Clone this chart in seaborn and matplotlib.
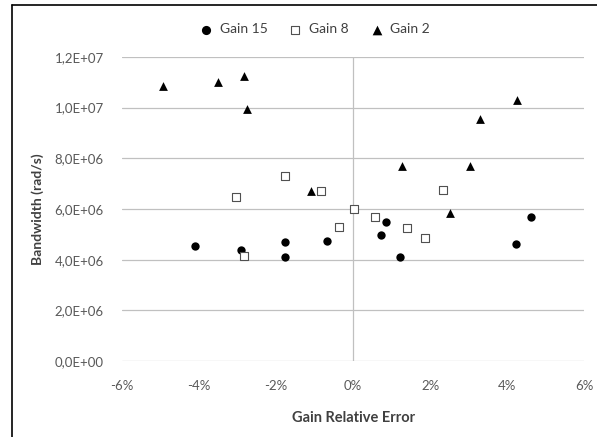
import numpy as np
import pandas as pd
import seaborn as sns
import matplotlib.pyplot as plt
from matplotlib.lines import Line2D
from matplotlib.ticker import FuncFormatter

# values (x in %, y in rad/s)
gain15_err = [-4.10, -2.91, -1.76, -1.76, -0.68, 0.72, 0.86, 1.21, 4.22, 4.61]
gain15_bw = [4.55e6, 4.39e6, 4.69e6, 4.12e6, 4.74e6, 4.99e6, 5.50e6, 4.12e6, 4.62e6, 5.70e6]

gain8_err = [-3.03, -2.82, -1.76, -0.82, -0.37, 0.02, 0.56, 1.40, 1.86, 2.34]
gain8_bw = [6.46e6, 4.16e6, 7.29e6, 6.72e6, 5.28e6, 6.00e6, 5.70e6, 5.26e6, 4.84e6, 6.75e6]

gain2_err = [-4.93, -3.51, -2.82, -2.75, -1.08, 1.28, 2.51, 3.03, 3.29, 4.25]
gain2_bw = [1.087e7, 1.103e7, 1.124e7, 0.996e7, 6.70e6, 7.71e6, 5.83e6, 7.69e6, 9.55e6, 1.030e7]

x_ticks = [-6, -4, -2, 0, 2, 4, 6]
y_ticks = [0, 2e6, 4e6, 6e6, 8e6, 1e7, 1.2e7]

df15 = pd.DataFrame({"err": gain15_err, "bw": gain15_bw})
df8 = pd.DataFrame({"err": gain8_err, "bw": gain8_bw})
df2 = pd.DataFrame({"err": gain2_err, "bw": gain2_bw})

sns.set_theme(style="white")
plt.rcParams["font.family"] = ["Lato", "DejaVu Sans"]

fig = plt.figure(figsize=(5.97, 4.37), dpi=100)
ax = fig.add_axes([0.2044, 0.1739, 0.774, 0.6957])

sns.scatterplot(data=df15, x="err", y="bw", ax=ax, marker="o", s=36,
                color="black", edgecolor="black", linewidth=0, label="Gain 15", zorder=3)
sns.scatterplot(data=df8, x="err", y="bw", ax=ax, marker="s", s=26,
                facecolor="white", edgecolor="#505050", linewidth=0.8, label="Gain 8", zorder=3)
sns.scatterplot(data=df2, x="err", y="bw", ax=ax, marker="^", s=40,
                color="black", edgecolor="black", linewidth=0, label="Gain 2", zorder=3)

ax.set_xlim(-6, 6)
ax.set_ylim(0, 1.2e7)
ax.set_xticks(x_ticks)
ax.set_yticks(y_ticks)
ax.xaxis.set_major_formatter(FuncFormatter(lambda v, p: f"{v:.0f}%"))
ax.yaxis.set_major_formatter(FuncFormatter(lambda v, p: f"{v:.1E}".replace(".", ",")))
ax.tick_params(axis="both", length=0, labelsize=9.5, labelcolor="#595959")
ax.tick_params(axis="x", pad=14)
ax.tick_params(axis="y", pad=13)

ax.grid(axis="y", color="#c0c0c0", linewidth=0.9)
ax.axvline(0, color="#c0c0c0", linewidth=0.9, zorder=1)
for s in ax.spines.values():
    s.set_visible(False)

ax.set_xlabel("Gain Relative Error", fontsize=10.5, fontweight="bold", color="#404040", labelpad=13)
ax.set_ylabel("Bandwidth (rad/s)", fontsize=10, fontweight="bold", color="#404040", labelpad=8)

handles, labels = ax.get_legend_handles_labels()
ax.legend_.remove()
fig.legend(handles, labels, loc="center", bbox_to_anchor=(0.521, 0.933), ncol=3,
           frameon=False, fontsize=10, handletextpad=0.0, columnspacing=1.0,
           markerscale=1.1, labelcolor="#404040")

# chart border (left and top edges visible in the reference)
fig.add_artist(Line2D([12 / 597, 12 / 597], [0, 1 - 5 / 437], color="black", linewidth=1.2))
fig.add_artist(Line2D([12 / 597, 1], [1 - 5 / 437, 1 - 5 / 437], color="black", linewidth=1.2))

fig.savefig("out.png", dpi=100)
